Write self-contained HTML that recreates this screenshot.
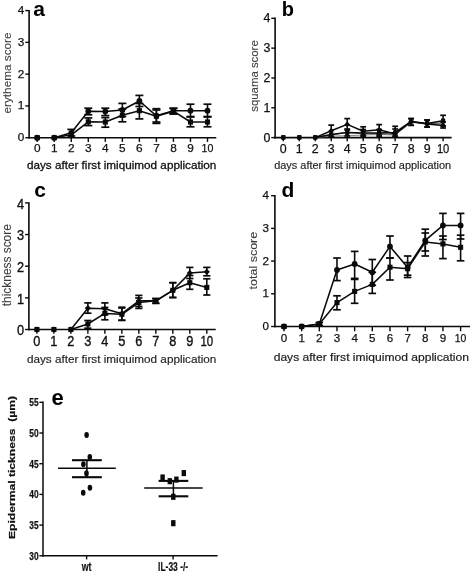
<!DOCTYPE html>
<html lang="en"><head><meta charset="utf-8"><title>Figure</title>
<style>html,body{margin:0;padding:0;background:#fff}body{width:472px;height:573px;overflow:hidden}svg{display:block}#fig{filter:blur(0.45px)}</style>
</head><body>
<svg width="472" height="573" viewBox="0 0 472 573" font-family='"Liberation Sans", Arial, sans-serif'>
<rect width="472" height="573" fill="#fff"/>
<g id="fig">
<line x1="29.1" y1="9.88" x2="29.1" y2="138.5" stroke="#0a0a0a" stroke-width="1.6"/>
<line x1="28.3" y1="137.7" x2="216.3" y2="137.7" stroke="#0a0a0a" stroke-width="1.6"/>
<line x1="25.3" y1="137.7" x2="29.1" y2="137.7" stroke="#0a0a0a" stroke-width="1.4"/>
<text x="24.4" y="141.15" font-size="11.8" text-anchor="end" fill="#111" stroke="#111" stroke-width="0.25">0</text>
<line x1="25.3" y1="105.92" x2="29.1" y2="105.92" stroke="#0a0a0a" stroke-width="1.4"/>
<text x="24.4" y="109.37" font-size="11.8" text-anchor="end" fill="#111" stroke="#111" stroke-width="0.25">1</text>
<line x1="25.3" y1="74.14" x2="29.1" y2="74.14" stroke="#0a0a0a" stroke-width="1.4"/>
<text x="24.4" y="77.59" font-size="11.8" text-anchor="end" fill="#111" stroke="#111" stroke-width="0.25">2</text>
<line x1="25.3" y1="42.36" x2="29.1" y2="42.36" stroke="#0a0a0a" stroke-width="1.4"/>
<text x="24.4" y="45.81" font-size="11.8" text-anchor="end" fill="#111" stroke="#111" stroke-width="0.25">3</text>
<line x1="25.3" y1="10.58" x2="29.1" y2="10.58" stroke="#0a0a0a" stroke-width="1.4"/>
<text x="24.4" y="14.03" font-size="11.8" text-anchor="end" fill="#111" stroke="#111" stroke-width="0.25">4</text>
<line x1="37.2" y1="137.7" x2="37.2" y2="141.9" stroke="#0a0a0a" stroke-width="1.4"/>
<text x="37.2" y="152.3" font-size="11.8" text-anchor="middle" fill="#111" stroke="#111" stroke-width="0.25">0</text>
<line x1="54.23" y1="137.7" x2="54.23" y2="141.9" stroke="#0a0a0a" stroke-width="1.4"/>
<text x="54.23" y="152.3" font-size="11.8" text-anchor="middle" fill="#111" stroke="#111" stroke-width="0.25">1</text>
<line x1="71.26" y1="137.7" x2="71.26" y2="141.9" stroke="#0a0a0a" stroke-width="1.4"/>
<text x="71.26" y="152.3" font-size="11.8" text-anchor="middle" fill="#111" stroke="#111" stroke-width="0.25">2</text>
<line x1="88.29" y1="137.7" x2="88.29" y2="141.9" stroke="#0a0a0a" stroke-width="1.4"/>
<text x="88.29" y="152.3" font-size="11.8" text-anchor="middle" fill="#111" stroke="#111" stroke-width="0.25">3</text>
<line x1="105.32" y1="137.7" x2="105.32" y2="141.9" stroke="#0a0a0a" stroke-width="1.4"/>
<text x="105.32" y="152.3" font-size="11.8" text-anchor="middle" fill="#111" stroke="#111" stroke-width="0.25">4</text>
<line x1="122.35" y1="137.7" x2="122.35" y2="141.9" stroke="#0a0a0a" stroke-width="1.4"/>
<text x="122.35" y="152.3" font-size="11.8" text-anchor="middle" fill="#111" stroke="#111" stroke-width="0.25">5</text>
<line x1="139.38" y1="137.7" x2="139.38" y2="141.9" stroke="#0a0a0a" stroke-width="1.4"/>
<text x="139.38" y="152.3" font-size="11.8" text-anchor="middle" fill="#111" stroke="#111" stroke-width="0.25">6</text>
<line x1="156.41" y1="137.7" x2="156.41" y2="141.9" stroke="#0a0a0a" stroke-width="1.4"/>
<text x="156.41" y="152.3" font-size="11.8" text-anchor="middle" fill="#111" stroke="#111" stroke-width="0.25">7</text>
<line x1="173.44" y1="137.7" x2="173.44" y2="141.9" stroke="#0a0a0a" stroke-width="1.4"/>
<text x="173.44" y="152.3" font-size="11.8" text-anchor="middle" fill="#111" stroke="#111" stroke-width="0.25">8</text>
<line x1="190.47" y1="137.7" x2="190.47" y2="141.9" stroke="#0a0a0a" stroke-width="1.4"/>
<text x="190.47" y="152.3" font-size="11.8" text-anchor="middle" fill="#111" stroke="#111" stroke-width="0.25">9</text>
<line x1="207.5" y1="137.7" x2="207.5" y2="141.9" stroke="#0a0a0a" stroke-width="1.4"/>
<text x="207.5" y="152.3" font-size="11.8" text-anchor="middle" fill="#111" textLength="11.8" lengthAdjust="spacingAndGlyphs" stroke="#111" stroke-width="0.25">10</text>
<text x="26.9" y="169" font-size="11.2" text-anchor="start" fill="#111" textLength="189.5" lengthAdjust="spacingAndGlyphs" stroke="#111" stroke-width="0.3">days after first imiquimod application</text>
<text x="10.9" y="73" font-size="11.2" text-anchor="middle" fill="#3c3c3c" textLength="81" lengthAdjust="spacingAndGlyphs" transform="rotate(-90 10.9 73)" stroke="#3c3c3c" stroke-width="0.1">erythema score</text>
<text x="33.2" y="16" font-size="21" text-anchor="start" fill="#000" font-weight="bold">a</text>
<polyline points="54.23,137.7 71.26,134.8 88.29,121.8 105.32,122 122.35,115.3 139.38,110.7 156.41,116.2 173.44,111.2 190.47,122 207.5,122" fill="none" stroke="#0a0a0a" stroke-width="1.55" stroke-linejoin="round"/>
<polyline points="54.23,137.7 71.26,132.8 88.29,111.2 105.32,111.5 122.35,110 139.38,101 156.41,115.8 173.44,110.7 190.47,110.7 207.5,110.7" fill="none" stroke="#0a0a0a" stroke-width="1.55" stroke-linejoin="round"/>
<line x1="88.29" y1="117.9" x2="88.29" y2="125.6" stroke="#0a0a0a" stroke-width="1.6"/>
<line x1="84.29" y1="117.9" x2="92.29" y2="117.9" stroke="#0a0a0a" stroke-width="1.7"/>
<line x1="84.29" y1="125.6" x2="92.29" y2="125.6" stroke="#0a0a0a" stroke-width="1.7"/>
<line x1="105.32" y1="117.6" x2="105.32" y2="127.2" stroke="#0a0a0a" stroke-width="1.6"/>
<line x1="101.32" y1="117.6" x2="109.32" y2="117.6" stroke="#0a0a0a" stroke-width="1.7"/>
<line x1="101.32" y1="127.2" x2="109.32" y2="127.2" stroke="#0a0a0a" stroke-width="1.7"/>
<line x1="122.35" y1="109" x2="122.35" y2="121.8" stroke="#0a0a0a" stroke-width="1.6"/>
<line x1="118.35" y1="109" x2="126.35" y2="109" stroke="#0a0a0a" stroke-width="1.7"/>
<line x1="118.35" y1="121.8" x2="126.35" y2="121.8" stroke="#0a0a0a" stroke-width="1.7"/>
<line x1="139.38" y1="103.5" x2="139.38" y2="118.9" stroke="#0a0a0a" stroke-width="1.6"/>
<line x1="135.38" y1="103.5" x2="143.38" y2="103.5" stroke="#0a0a0a" stroke-width="1.7"/>
<line x1="135.38" y1="118.9" x2="143.38" y2="118.9" stroke="#0a0a0a" stroke-width="1.7"/>
<line x1="156.41" y1="110" x2="156.41" y2="123.4" stroke="#0a0a0a" stroke-width="1.6"/>
<line x1="152.41" y1="110" x2="160.41" y2="110" stroke="#0a0a0a" stroke-width="1.7"/>
<line x1="152.41" y1="123.4" x2="160.41" y2="123.4" stroke="#0a0a0a" stroke-width="1.7"/>
<line x1="173.44" y1="108.5" x2="173.44" y2="114" stroke="#0a0a0a" stroke-width="1.6"/>
<line x1="169.44" y1="108.5" x2="177.44" y2="108.5" stroke="#0a0a0a" stroke-width="1.7"/>
<line x1="169.44" y1="114" x2="177.44" y2="114" stroke="#0a0a0a" stroke-width="1.7"/>
<line x1="190.47" y1="117" x2="190.47" y2="126.8" stroke="#0a0a0a" stroke-width="1.6"/>
<line x1="186.47" y1="117" x2="194.47" y2="117" stroke="#0a0a0a" stroke-width="1.7"/>
<line x1="186.47" y1="126.8" x2="194.47" y2="126.8" stroke="#0a0a0a" stroke-width="1.7"/>
<line x1="207.5" y1="117" x2="207.5" y2="126.8" stroke="#0a0a0a" stroke-width="1.6"/>
<line x1="203.5" y1="117" x2="211.5" y2="117" stroke="#0a0a0a" stroke-width="1.7"/>
<line x1="203.5" y1="126.8" x2="211.5" y2="126.8" stroke="#0a0a0a" stroke-width="1.7"/>
<line x1="71.26" y1="129.4" x2="71.26" y2="136" stroke="#0a0a0a" stroke-width="1.6"/>
<line x1="67.26" y1="129.4" x2="75.26" y2="129.4" stroke="#0a0a0a" stroke-width="1.7"/>
<line x1="67.26" y1="136" x2="75.26" y2="136" stroke="#0a0a0a" stroke-width="1.7"/>
<line x1="88.29" y1="108.2" x2="88.29" y2="114.8" stroke="#0a0a0a" stroke-width="1.6"/>
<line x1="84.29" y1="108.2" x2="92.29" y2="108.2" stroke="#0a0a0a" stroke-width="1.7"/>
<line x1="84.29" y1="114.8" x2="92.29" y2="114.8" stroke="#0a0a0a" stroke-width="1.7"/>
<line x1="105.32" y1="108.2" x2="105.32" y2="115.6" stroke="#0a0a0a" stroke-width="1.6"/>
<line x1="101.32" y1="108.2" x2="109.32" y2="108.2" stroke="#0a0a0a" stroke-width="1.7"/>
<line x1="101.32" y1="115.6" x2="109.32" y2="115.6" stroke="#0a0a0a" stroke-width="1.7"/>
<line x1="122.35" y1="103.4" x2="122.35" y2="116.5" stroke="#0a0a0a" stroke-width="1.6"/>
<line x1="118.35" y1="103.4" x2="126.35" y2="103.4" stroke="#0a0a0a" stroke-width="1.7"/>
<line x1="118.35" y1="116.5" x2="126.35" y2="116.5" stroke="#0a0a0a" stroke-width="1.7"/>
<line x1="139.38" y1="95.4" x2="139.38" y2="106.5" stroke="#0a0a0a" stroke-width="1.6"/>
<line x1="135.38" y1="95.4" x2="143.38" y2="95.4" stroke="#0a0a0a" stroke-width="1.7"/>
<line x1="135.38" y1="106.5" x2="143.38" y2="106.5" stroke="#0a0a0a" stroke-width="1.7"/>
<line x1="156.41" y1="108.7" x2="156.41" y2="122" stroke="#0a0a0a" stroke-width="1.6"/>
<line x1="152.41" y1="108.7" x2="160.41" y2="108.7" stroke="#0a0a0a" stroke-width="1.7"/>
<line x1="152.41" y1="122" x2="160.41" y2="122" stroke="#0a0a0a" stroke-width="1.7"/>
<line x1="173.44" y1="108.2" x2="173.44" y2="113.8" stroke="#0a0a0a" stroke-width="1.6"/>
<line x1="169.44" y1="108.2" x2="177.44" y2="108.2" stroke="#0a0a0a" stroke-width="1.7"/>
<line x1="169.44" y1="113.8" x2="177.44" y2="113.8" stroke="#0a0a0a" stroke-width="1.7"/>
<line x1="190.47" y1="104.2" x2="190.47" y2="116.5" stroke="#0a0a0a" stroke-width="1.6"/>
<line x1="186.47" y1="104.2" x2="194.47" y2="104.2" stroke="#0a0a0a" stroke-width="1.7"/>
<line x1="186.47" y1="116.5" x2="194.47" y2="116.5" stroke="#0a0a0a" stroke-width="1.7"/>
<line x1="207.5" y1="104.2" x2="207.5" y2="116.5" stroke="#0a0a0a" stroke-width="1.6"/>
<line x1="203.5" y1="104.2" x2="211.5" y2="104.2" stroke="#0a0a0a" stroke-width="1.7"/>
<line x1="203.5" y1="116.5" x2="211.5" y2="116.5" stroke="#0a0a0a" stroke-width="1.7"/>
<rect x="34.65" y="135.15" width="5.1" height="5.1" fill="#0a0a0a"/>
<rect x="51.68" y="135.15" width="5.1" height="5.1" fill="#0a0a0a"/>
<rect x="68.71" y="132.25" width="5.1" height="5.1" fill="#0a0a0a"/>
<rect x="85.74" y="119.25" width="5.1" height="5.1" fill="#0a0a0a"/>
<rect x="102.77" y="119.45" width="5.1" height="5.1" fill="#0a0a0a"/>
<rect x="119.8" y="112.75" width="5.1" height="5.1" fill="#0a0a0a"/>
<rect x="136.83" y="108.15" width="5.1" height="5.1" fill="#0a0a0a"/>
<rect x="153.86" y="113.65" width="5.1" height="5.1" fill="#0a0a0a"/>
<rect x="170.89" y="108.65" width="5.1" height="5.1" fill="#0a0a0a"/>
<rect x="187.92" y="119.45" width="5.1" height="5.1" fill="#0a0a0a"/>
<rect x="204.95" y="119.45" width="5.1" height="5.1" fill="#0a0a0a"/>
<circle cx="37.2" cy="137.7" r="2.9" fill="#0a0a0a"/>
<circle cx="54.23" cy="137.7" r="2.9" fill="#0a0a0a"/>
<circle cx="71.26" cy="132.8" r="2.9" fill="#0a0a0a"/>
<circle cx="88.29" cy="111.2" r="2.9" fill="#0a0a0a"/>
<circle cx="105.32" cy="111.5" r="2.9" fill="#0a0a0a"/>
<circle cx="122.35" cy="110" r="2.9" fill="#0a0a0a"/>
<circle cx="139.38" cy="101" r="2.9" fill="#0a0a0a"/>
<circle cx="156.41" cy="115.8" r="2.9" fill="#0a0a0a"/>
<circle cx="173.44" cy="110.7" r="2.9" fill="#0a0a0a"/>
<circle cx="190.47" cy="110.7" r="2.9" fill="#0a0a0a"/>
<circle cx="207.5" cy="110.7" r="2.9" fill="#0a0a0a"/>
<line x1="275.1" y1="17.62" x2="275.1" y2="138.4" stroke="#0a0a0a" stroke-width="1.6"/>
<line x1="274.3" y1="137.6" x2="451.6" y2="137.6" stroke="#0a0a0a" stroke-width="1.6"/>
<line x1="271.3" y1="137.6" x2="275.1" y2="137.6" stroke="#0a0a0a" stroke-width="1.4"/>
<text x="270.4" y="141.56" font-size="12.4" text-anchor="end" fill="#111" stroke="#111" stroke-width="0.25">0</text>
<line x1="271.3" y1="107.78" x2="275.1" y2="107.78" stroke="#0a0a0a" stroke-width="1.4"/>
<text x="270.4" y="111.74" font-size="12.4" text-anchor="end" fill="#111" stroke="#111" stroke-width="0.25">1</text>
<line x1="271.3" y1="77.96" x2="275.1" y2="77.96" stroke="#0a0a0a" stroke-width="1.4"/>
<text x="270.4" y="81.92" font-size="12.4" text-anchor="end" fill="#111" stroke="#111" stroke-width="0.25">2</text>
<line x1="271.3" y1="48.14" x2="275.1" y2="48.14" stroke="#0a0a0a" stroke-width="1.4"/>
<text x="270.4" y="52.1" font-size="12.4" text-anchor="end" fill="#111" stroke="#111" stroke-width="0.25">3</text>
<line x1="271.3" y1="18.32" x2="275.1" y2="18.32" stroke="#0a0a0a" stroke-width="1.4"/>
<text x="270.4" y="22.28" font-size="12.4" text-anchor="end" fill="#111" stroke="#111" stroke-width="0.25">4</text>
<line x1="283.3" y1="137.6" x2="283.3" y2="141.2" stroke="#0a0a0a" stroke-width="1.4"/>
<text x="283.3" y="153" font-size="12.4" text-anchor="middle" fill="#111" stroke="#111" stroke-width="0.25">0</text>
<line x1="299.28" y1="137.6" x2="299.28" y2="141.2" stroke="#0a0a0a" stroke-width="1.4"/>
<text x="299.28" y="153" font-size="12.4" text-anchor="middle" fill="#111" stroke="#111" stroke-width="0.25">1</text>
<line x1="315.26" y1="137.6" x2="315.26" y2="141.2" stroke="#0a0a0a" stroke-width="1.4"/>
<text x="315.26" y="153" font-size="12.4" text-anchor="middle" fill="#111" stroke="#111" stroke-width="0.25">2</text>
<line x1="331.24" y1="137.6" x2="331.24" y2="141.2" stroke="#0a0a0a" stroke-width="1.4"/>
<text x="331.24" y="153" font-size="12.4" text-anchor="middle" fill="#111" stroke="#111" stroke-width="0.25">3</text>
<line x1="347.22" y1="137.6" x2="347.22" y2="141.2" stroke="#0a0a0a" stroke-width="1.4"/>
<text x="347.22" y="153" font-size="12.4" text-anchor="middle" fill="#111" stroke="#111" stroke-width="0.25">4</text>
<line x1="363.2" y1="137.6" x2="363.2" y2="141.2" stroke="#0a0a0a" stroke-width="1.4"/>
<text x="363.2" y="153" font-size="12.4" text-anchor="middle" fill="#111" stroke="#111" stroke-width="0.25">5</text>
<line x1="379.18" y1="137.6" x2="379.18" y2="141.2" stroke="#0a0a0a" stroke-width="1.4"/>
<text x="379.18" y="153" font-size="12.4" text-anchor="middle" fill="#111" stroke="#111" stroke-width="0.25">6</text>
<line x1="395.16" y1="137.6" x2="395.16" y2="141.2" stroke="#0a0a0a" stroke-width="1.4"/>
<text x="395.16" y="153" font-size="12.4" text-anchor="middle" fill="#111" stroke="#111" stroke-width="0.25">7</text>
<line x1="411.14" y1="137.6" x2="411.14" y2="141.2" stroke="#0a0a0a" stroke-width="1.4"/>
<text x="411.14" y="153" font-size="12.4" text-anchor="middle" fill="#111" stroke="#111" stroke-width="0.25">8</text>
<line x1="427.12" y1="137.6" x2="427.12" y2="141.2" stroke="#0a0a0a" stroke-width="1.4"/>
<text x="427.12" y="153" font-size="12.4" text-anchor="middle" fill="#111" stroke="#111" stroke-width="0.25">9</text>
<line x1="443.1" y1="137.6" x2="443.1" y2="141.2" stroke="#0a0a0a" stroke-width="1.4"/>
<text x="443.1" y="153" font-size="12.4" text-anchor="middle" fill="#111" textLength="12.4" lengthAdjust="spacingAndGlyphs" stroke="#111" stroke-width="0.25">10</text>
<text x="274.2" y="169" font-size="10.6" text-anchor="start" fill="#222" textLength="177" lengthAdjust="spacingAndGlyphs" stroke="#222" stroke-width="0.15">days after first imiquimod application</text>
<text x="257.9" y="76" font-size="10.8" text-anchor="middle" fill="#3c3c3c" textLength="71.5" lengthAdjust="spacingAndGlyphs" transform="rotate(-90 257.9 76)" stroke="#3c3c3c" stroke-width="0.1">squama score</text>
<text x="281.8" y="15.6" font-size="20" text-anchor="start" fill="#000" font-weight="bold">b</text>
<polyline points="315.26,137.6 331.24,136 347.22,135.8 363.2,135 379.18,134.5 395.16,135 411.14,122.5 427.12,123.5 443.1,124" fill="none" stroke="#777" stroke-width="0.9" stroke-linejoin="round"/>
<polyline points="315.26,137.6 331.24,135 347.22,132.2 363.2,134 379.18,133.5 395.16,134.5 411.14,122 427.12,123.7 443.1,123" fill="none" stroke="#555" stroke-width="0.9" stroke-linejoin="round"/>
<polyline points="315.26,137.6 331.24,134.5 347.22,132.5 363.2,133 379.18,133 395.16,132.5 411.14,121.5 427.12,123.6 443.1,120.7" fill="none" stroke="#0a0a0a" stroke-width="1.55" stroke-linejoin="round"/>
<polyline points="315.26,137.6 331.24,130.8 347.22,124.4 363.2,131.2 379.18,129.8 395.16,134 411.14,121.5 427.12,123.9 443.1,125.4" fill="none" stroke="#0a0a0a" stroke-width="1.55" stroke-linejoin="round"/>
<line x1="347.22" y1="129" x2="347.22" y2="136" stroke="#0a0a0a" stroke-width="1.6"/>
<line x1="344.32" y1="129" x2="350.12" y2="129" stroke="#0a0a0a" stroke-width="1.7"/>
<line x1="344.32" y1="136" x2="350.12" y2="136" stroke="#0a0a0a" stroke-width="1.7"/>
<line x1="363.2" y1="129.5" x2="363.2" y2="136.5" stroke="#0a0a0a" stroke-width="1.6"/>
<line x1="360.3" y1="129.5" x2="366.1" y2="129.5" stroke="#0a0a0a" stroke-width="1.7"/>
<line x1="360.3" y1="136.5" x2="366.1" y2="136.5" stroke="#0a0a0a" stroke-width="1.7"/>
<line x1="379.18" y1="129.5" x2="379.18" y2="136.5" stroke="#0a0a0a" stroke-width="1.6"/>
<line x1="376.28" y1="129.5" x2="382.08" y2="129.5" stroke="#0a0a0a" stroke-width="1.7"/>
<line x1="376.28" y1="136.5" x2="382.08" y2="136.5" stroke="#0a0a0a" stroke-width="1.7"/>
<line x1="395.16" y1="129" x2="395.16" y2="136" stroke="#0a0a0a" stroke-width="1.6"/>
<line x1="392.26" y1="129" x2="398.06" y2="129" stroke="#0a0a0a" stroke-width="1.7"/>
<line x1="392.26" y1="136" x2="398.06" y2="136" stroke="#0a0a0a" stroke-width="1.7"/>
<line x1="411.14" y1="118.6" x2="411.14" y2="125.2" stroke="#0a0a0a" stroke-width="1.6"/>
<line x1="408.24" y1="118.6" x2="414.04" y2="118.6" stroke="#0a0a0a" stroke-width="1.7"/>
<line x1="408.24" y1="125.2" x2="414.04" y2="125.2" stroke="#0a0a0a" stroke-width="1.7"/>
<line x1="427.12" y1="120" x2="427.12" y2="127" stroke="#0a0a0a" stroke-width="1.6"/>
<line x1="424.22" y1="120" x2="430.02" y2="120" stroke="#0a0a0a" stroke-width="1.7"/>
<line x1="424.22" y1="127" x2="430.02" y2="127" stroke="#0a0a0a" stroke-width="1.7"/>
<line x1="443.1" y1="115.3" x2="443.1" y2="126" stroke="#0a0a0a" stroke-width="1.6"/>
<line x1="440.2" y1="115.3" x2="446" y2="115.3" stroke="#0a0a0a" stroke-width="1.7"/>
<line x1="440.2" y1="126" x2="446" y2="126" stroke="#0a0a0a" stroke-width="1.7"/>
<line x1="331.24" y1="125.1" x2="331.24" y2="136.5" stroke="#0a0a0a" stroke-width="1.6"/>
<line x1="328.34" y1="125.1" x2="334.14" y2="125.1" stroke="#0a0a0a" stroke-width="1.7"/>
<line x1="328.34" y1="136.5" x2="334.14" y2="136.5" stroke="#0a0a0a" stroke-width="1.7"/>
<line x1="347.22" y1="118.6" x2="347.22" y2="130" stroke="#0a0a0a" stroke-width="1.6"/>
<line x1="344.32" y1="118.6" x2="350.12" y2="118.6" stroke="#0a0a0a" stroke-width="1.7"/>
<line x1="344.32" y1="130" x2="350.12" y2="130" stroke="#0a0a0a" stroke-width="1.7"/>
<line x1="363.2" y1="126.8" x2="363.2" y2="135.3" stroke="#0a0a0a" stroke-width="1.6"/>
<line x1="360.3" y1="126.8" x2="366.1" y2="126.8" stroke="#0a0a0a" stroke-width="1.7"/>
<line x1="360.3" y1="135.3" x2="366.1" y2="135.3" stroke="#0a0a0a" stroke-width="1.7"/>
<line x1="379.18" y1="124.6" x2="379.18" y2="135" stroke="#0a0a0a" stroke-width="1.6"/>
<line x1="376.28" y1="124.6" x2="382.08" y2="124.6" stroke="#0a0a0a" stroke-width="1.7"/>
<line x1="376.28" y1="135" x2="382.08" y2="135" stroke="#0a0a0a" stroke-width="1.7"/>
<line x1="395.16" y1="126.3" x2="395.16" y2="137" stroke="#0a0a0a" stroke-width="1.6"/>
<line x1="392.26" y1="126.3" x2="398.06" y2="126.3" stroke="#0a0a0a" stroke-width="1.7"/>
<line x1="392.26" y1="137" x2="398.06" y2="137" stroke="#0a0a0a" stroke-width="1.7"/>
<line x1="411.14" y1="118.6" x2="411.14" y2="125.4" stroke="#0a0a0a" stroke-width="1.6"/>
<line x1="408.24" y1="118.6" x2="414.04" y2="118.6" stroke="#0a0a0a" stroke-width="1.7"/>
<line x1="408.24" y1="125.4" x2="414.04" y2="125.4" stroke="#0a0a0a" stroke-width="1.7"/>
<line x1="427.12" y1="120" x2="427.12" y2="127.1" stroke="#0a0a0a" stroke-width="1.6"/>
<line x1="424.22" y1="120" x2="430.02" y2="120" stroke="#0a0a0a" stroke-width="1.7"/>
<line x1="424.22" y1="127.1" x2="430.02" y2="127.1" stroke="#0a0a0a" stroke-width="1.7"/>
<line x1="443.1" y1="122" x2="443.1" y2="128" stroke="#0a0a0a" stroke-width="1.6"/>
<line x1="440.2" y1="122" x2="446" y2="122" stroke="#0a0a0a" stroke-width="1.7"/>
<line x1="440.2" y1="128" x2="446" y2="128" stroke="#0a0a0a" stroke-width="1.7"/>
<polygon points="281.1,135.4 285.5,135.4 283.3,139.8" fill="#0a0a0a"/>
<polygon points="297.08,135.4 301.48,135.4 299.28,139.8" fill="#0a0a0a"/>
<polygon points="313.06,135.4 317.46,135.4 315.26,139.8" fill="#0a0a0a"/>
<polygon points="329.04,133.8 333.44,133.8 331.24,138.2" fill="#0a0a0a"/>
<polygon points="345.02,133.6 349.42,133.6 347.22,138" fill="#0a0a0a"/>
<polygon points="361,132.8 365.4,132.8 363.2,137.2" fill="#0a0a0a"/>
<polygon points="376.98,132.3 381.38,132.3 379.18,136.7" fill="#0a0a0a"/>
<polygon points="392.96,132.8 397.36,132.8 395.16,137.2" fill="#0a0a0a"/>
<polygon points="408.94,120.3 413.34,120.3 411.14,124.7" fill="#0a0a0a"/>
<polygon points="424.92,121.3 429.32,121.3 427.12,125.7" fill="#0a0a0a"/>
<polygon points="440.9,121.8 445.3,121.8 443.1,126.2" fill="#0a0a0a"/>
<polygon points="281.1,135.4 285.5,135.4 283.3,139.8" fill="#0a0a0a"/>
<polygon points="297.08,135.4 301.48,135.4 299.28,139.8" fill="#0a0a0a"/>
<polygon points="313.06,135.4 317.46,135.4 315.26,139.8" fill="#0a0a0a"/>
<polygon points="329.04,132.8 333.44,132.8 331.24,137.2" fill="#0a0a0a"/>
<polygon points="345.02,130 349.42,130 347.22,134.4" fill="#0a0a0a"/>
<polygon points="361,131.8 365.4,131.8 363.2,136.2" fill="#0a0a0a"/>
<polygon points="376.98,131.3 381.38,131.3 379.18,135.7" fill="#0a0a0a"/>
<polygon points="392.96,132.3 397.36,132.3 395.16,136.7" fill="#0a0a0a"/>
<polygon points="408.94,119.8 413.34,119.8 411.14,124.2" fill="#0a0a0a"/>
<polygon points="424.92,121.5 429.32,121.5 427.12,125.9" fill="#0a0a0a"/>
<polygon points="440.9,120.8 445.3,120.8 443.1,125.2" fill="#0a0a0a"/>
<rect x="281.2" y="135.5" width="4.2" height="4.2" fill="#0a0a0a"/>
<rect x="297.18" y="135.5" width="4.2" height="4.2" fill="#0a0a0a"/>
<rect x="313.16" y="135.5" width="4.2" height="4.2" fill="#0a0a0a"/>
<rect x="329.14" y="132.4" width="4.2" height="4.2" fill="#0a0a0a"/>
<rect x="345.12" y="130.4" width="4.2" height="4.2" fill="#0a0a0a"/>
<rect x="361.1" y="130.9" width="4.2" height="4.2" fill="#0a0a0a"/>
<rect x="377.08" y="130.9" width="4.2" height="4.2" fill="#0a0a0a"/>
<rect x="393.06" y="130.4" width="4.2" height="4.2" fill="#0a0a0a"/>
<rect x="409.04" y="119.4" width="4.2" height="4.2" fill="#0a0a0a"/>
<rect x="425.02" y="121.5" width="4.2" height="4.2" fill="#0a0a0a"/>
<rect x="441" y="118.6" width="4.2" height="4.2" fill="#0a0a0a"/>
<polygon points="280.4,137.6 283.3,134.7 286.2,137.6 283.3,140.5" fill="#0a0a0a"/>
<polygon points="296.38,137.6 299.28,134.7 302.18,137.6 299.28,140.5" fill="#0a0a0a"/>
<polygon points="312.36,137.6 315.26,134.7 318.16,137.6 315.26,140.5" fill="#0a0a0a"/>
<polygon points="328.34,130.8 331.24,127.9 334.14,130.8 331.24,133.7" fill="#0a0a0a"/>
<polygon points="344.32,124.4 347.22,121.5 350.12,124.4 347.22,127.3" fill="#0a0a0a"/>
<polygon points="360.3,131.2 363.2,128.3 366.1,131.2 363.2,134.1" fill="#0a0a0a"/>
<polygon points="376.28,129.8 379.18,126.9 382.08,129.8 379.18,132.7" fill="#0a0a0a"/>
<polygon points="392.26,134 395.16,131.1 398.06,134 395.16,136.9" fill="#0a0a0a"/>
<polygon points="408.24,121.5 411.14,118.6 414.04,121.5 411.14,124.4" fill="#0a0a0a"/>
<polygon points="424.22,123.9 427.12,121 430.02,123.9 427.12,126.8" fill="#0a0a0a"/>
<polygon points="440.2,125.4 443.1,122.5 446,125.4 443.1,128.3" fill="#0a0a0a"/>
<line x1="28.9" y1="202.2" x2="28.9" y2="330.3" stroke="#0a0a0a" stroke-width="1.6"/>
<line x1="28.1" y1="329.5" x2="215.7" y2="329.5" stroke="#0a0a0a" stroke-width="1.6"/>
<line x1="25.1" y1="329.5" x2="28.9" y2="329.5" stroke="#0a0a0a" stroke-width="1.4"/>
<text x="24.2" y="335.37" font-size="15.2" text-anchor="end" fill="#111" textLength="7.1" lengthAdjust="spacingAndGlyphs" stroke="#111" stroke-width="0.38">0</text>
<line x1="25.1" y1="297.85" x2="28.9" y2="297.85" stroke="#0a0a0a" stroke-width="1.4"/>
<text x="24.2" y="303.72" font-size="15.2" text-anchor="end" fill="#111" textLength="7.1" lengthAdjust="spacingAndGlyphs" stroke="#111" stroke-width="0.38">1</text>
<line x1="25.1" y1="266.2" x2="28.9" y2="266.2" stroke="#0a0a0a" stroke-width="1.4"/>
<text x="24.2" y="272.07" font-size="15.2" text-anchor="end" fill="#111" textLength="7.1" lengthAdjust="spacingAndGlyphs" stroke="#111" stroke-width="0.38">2</text>
<line x1="25.1" y1="234.55" x2="28.9" y2="234.55" stroke="#0a0a0a" stroke-width="1.4"/>
<text x="24.2" y="240.42" font-size="15.2" text-anchor="end" fill="#111" textLength="7.1" lengthAdjust="spacingAndGlyphs" stroke="#111" stroke-width="0.38">3</text>
<line x1="25.1" y1="202.9" x2="28.9" y2="202.9" stroke="#0a0a0a" stroke-width="1.4"/>
<text x="24.2" y="208.77" font-size="15.2" text-anchor="end" fill="#111" textLength="7.1" lengthAdjust="spacingAndGlyphs" stroke="#111" stroke-width="0.38">4</text>
<line x1="36.9" y1="329.5" x2="36.9" y2="333.7" stroke="#0a0a0a" stroke-width="1.4"/>
<text x="36.9" y="346" font-size="15.2" text-anchor="middle" fill="#111" textLength="7.1" lengthAdjust="spacingAndGlyphs" stroke="#111" stroke-width="0.38">0</text>
<line x1="53.89" y1="329.5" x2="53.89" y2="333.7" stroke="#0a0a0a" stroke-width="1.4"/>
<text x="53.89" y="346" font-size="15.2" text-anchor="middle" fill="#111" textLength="7.1" lengthAdjust="spacingAndGlyphs" stroke="#111" stroke-width="0.38">1</text>
<line x1="70.88" y1="329.5" x2="70.88" y2="333.7" stroke="#0a0a0a" stroke-width="1.4"/>
<text x="70.88" y="346" font-size="15.2" text-anchor="middle" fill="#111" textLength="7.1" lengthAdjust="spacingAndGlyphs" stroke="#111" stroke-width="0.38">2</text>
<line x1="87.87" y1="329.5" x2="87.87" y2="333.7" stroke="#0a0a0a" stroke-width="1.4"/>
<text x="87.87" y="346" font-size="15.2" text-anchor="middle" fill="#111" textLength="7.1" lengthAdjust="spacingAndGlyphs" stroke="#111" stroke-width="0.38">3</text>
<line x1="104.86" y1="329.5" x2="104.86" y2="333.7" stroke="#0a0a0a" stroke-width="1.4"/>
<text x="104.86" y="346" font-size="15.2" text-anchor="middle" fill="#111" textLength="7.1" lengthAdjust="spacingAndGlyphs" stroke="#111" stroke-width="0.38">4</text>
<line x1="121.85" y1="329.5" x2="121.85" y2="333.7" stroke="#0a0a0a" stroke-width="1.4"/>
<text x="121.85" y="346" font-size="15.2" text-anchor="middle" fill="#111" textLength="7.1" lengthAdjust="spacingAndGlyphs" stroke="#111" stroke-width="0.38">5</text>
<line x1="138.84" y1="329.5" x2="138.84" y2="333.7" stroke="#0a0a0a" stroke-width="1.4"/>
<text x="138.84" y="346" font-size="15.2" text-anchor="middle" fill="#111" textLength="7.1" lengthAdjust="spacingAndGlyphs" stroke="#111" stroke-width="0.38">6</text>
<line x1="155.83" y1="329.5" x2="155.83" y2="333.7" stroke="#0a0a0a" stroke-width="1.4"/>
<text x="155.83" y="346" font-size="15.2" text-anchor="middle" fill="#111" textLength="7.1" lengthAdjust="spacingAndGlyphs" stroke="#111" stroke-width="0.38">7</text>
<line x1="172.82" y1="329.5" x2="172.82" y2="333.7" stroke="#0a0a0a" stroke-width="1.4"/>
<text x="172.82" y="346" font-size="15.2" text-anchor="middle" fill="#111" textLength="7.1" lengthAdjust="spacingAndGlyphs" stroke="#111" stroke-width="0.38">8</text>
<line x1="189.81" y1="329.5" x2="189.81" y2="333.7" stroke="#0a0a0a" stroke-width="1.4"/>
<text x="189.81" y="346" font-size="15.2" text-anchor="middle" fill="#111" textLength="7.1" lengthAdjust="spacingAndGlyphs" stroke="#111" stroke-width="0.38">9</text>
<line x1="206.8" y1="329.5" x2="206.8" y2="333.7" stroke="#0a0a0a" stroke-width="1.4"/>
<text x="206.8" y="346" font-size="15.2" text-anchor="middle" fill="#111" textLength="12.77" lengthAdjust="spacingAndGlyphs" stroke="#111" stroke-width="0.38">10</text>
<text x="26.9" y="363.2" font-size="10.6" text-anchor="start" fill="#222" textLength="189.5" lengthAdjust="spacingAndGlyphs" stroke="#222" stroke-width="0.15">days after first imiquimod application</text>
<text x="10.6" y="265.2" font-size="12.6" text-anchor="middle" fill="#3c3c3c" textLength="82" lengthAdjust="spacingAndGlyphs" transform="rotate(-90 10.6 265.2)" stroke="#3c3c3c" stroke-width="0.1">thickness score</text>
<text x="34.2" y="196.9" font-size="21" text-anchor="start" fill="#000" font-weight="bold">c</text>
<polyline points="70.88,329.5 87.87,324 104.86,313.4 121.85,314.3 138.84,302.6 155.83,300.8 172.82,290.3 189.81,282.7 206.8,287.4" fill="none" stroke="#0a0a0a" stroke-width="1.55" stroke-linejoin="round"/>
<polyline points="70.88,329.5 87.87,308.2 104.86,308.8 121.85,313.7 138.84,300.8 155.83,300.8 172.82,290.3 189.81,273.1 206.8,271.8" fill="none" stroke="#0a0a0a" stroke-width="1.55" stroke-linejoin="round"/>
<line x1="87.87" y1="320.5" x2="87.87" y2="328.2" stroke="#0a0a0a" stroke-width="1.6"/>
<line x1="84.27" y1="320.5" x2="91.47" y2="320.5" stroke="#0a0a0a" stroke-width="1.7"/>
<line x1="84.27" y1="328.2" x2="91.47" y2="328.2" stroke="#0a0a0a" stroke-width="1.7"/>
<line x1="104.86" y1="307.5" x2="104.86" y2="319.8" stroke="#0a0a0a" stroke-width="1.6"/>
<line x1="101.26" y1="307.5" x2="108.46" y2="307.5" stroke="#0a0a0a" stroke-width="1.7"/>
<line x1="101.26" y1="319.8" x2="108.46" y2="319.8" stroke="#0a0a0a" stroke-width="1.7"/>
<line x1="121.85" y1="308" x2="121.85" y2="320.3" stroke="#0a0a0a" stroke-width="1.6"/>
<line x1="118.25" y1="308" x2="125.45" y2="308" stroke="#0a0a0a" stroke-width="1.7"/>
<line x1="118.25" y1="320.3" x2="125.45" y2="320.3" stroke="#0a0a0a" stroke-width="1.7"/>
<line x1="138.84" y1="298" x2="138.84" y2="308.4" stroke="#0a0a0a" stroke-width="1.6"/>
<line x1="135.24" y1="298" x2="142.44" y2="298" stroke="#0a0a0a" stroke-width="1.7"/>
<line x1="135.24" y1="308.4" x2="142.44" y2="308.4" stroke="#0a0a0a" stroke-width="1.7"/>
<line x1="155.83" y1="298.6" x2="155.83" y2="303.3" stroke="#0a0a0a" stroke-width="1.6"/>
<line x1="152.23" y1="298.6" x2="159.43" y2="298.6" stroke="#0a0a0a" stroke-width="1.7"/>
<line x1="152.23" y1="303.3" x2="159.43" y2="303.3" stroke="#0a0a0a" stroke-width="1.7"/>
<line x1="172.82" y1="282.7" x2="172.82" y2="297.5" stroke="#0a0a0a" stroke-width="1.6"/>
<line x1="169.22" y1="282.7" x2="176.42" y2="282.7" stroke="#0a0a0a" stroke-width="1.7"/>
<line x1="169.22" y1="297.5" x2="176.42" y2="297.5" stroke="#0a0a0a" stroke-width="1.7"/>
<line x1="189.81" y1="275.5" x2="189.81" y2="289.3" stroke="#0a0a0a" stroke-width="1.6"/>
<line x1="186.21" y1="275.5" x2="193.41" y2="275.5" stroke="#0a0a0a" stroke-width="1.7"/>
<line x1="186.21" y1="289.3" x2="193.41" y2="289.3" stroke="#0a0a0a" stroke-width="1.7"/>
<line x1="206.8" y1="278.8" x2="206.8" y2="295" stroke="#0a0a0a" stroke-width="1.6"/>
<line x1="203.2" y1="278.8" x2="210.4" y2="278.8" stroke="#0a0a0a" stroke-width="1.7"/>
<line x1="203.2" y1="295" x2="210.4" y2="295" stroke="#0a0a0a" stroke-width="1.7"/>
<line x1="87.87" y1="302.9" x2="87.87" y2="313.2" stroke="#0a0a0a" stroke-width="1.6"/>
<line x1="84.27" y1="302.9" x2="91.47" y2="302.9" stroke="#0a0a0a" stroke-width="1.7"/>
<line x1="84.27" y1="313.2" x2="91.47" y2="313.2" stroke="#0a0a0a" stroke-width="1.7"/>
<line x1="104.86" y1="302.9" x2="104.86" y2="314.6" stroke="#0a0a0a" stroke-width="1.6"/>
<line x1="101.26" y1="302.9" x2="108.46" y2="302.9" stroke="#0a0a0a" stroke-width="1.7"/>
<line x1="101.26" y1="314.6" x2="108.46" y2="314.6" stroke="#0a0a0a" stroke-width="1.7"/>
<line x1="121.85" y1="307.2" x2="121.85" y2="320.3" stroke="#0a0a0a" stroke-width="1.6"/>
<line x1="118.25" y1="307.2" x2="125.45" y2="307.2" stroke="#0a0a0a" stroke-width="1.7"/>
<line x1="118.25" y1="320.3" x2="125.45" y2="320.3" stroke="#0a0a0a" stroke-width="1.7"/>
<line x1="138.84" y1="295.4" x2="138.84" y2="306.5" stroke="#0a0a0a" stroke-width="1.6"/>
<line x1="135.24" y1="295.4" x2="142.44" y2="295.4" stroke="#0a0a0a" stroke-width="1.7"/>
<line x1="135.24" y1="306.5" x2="142.44" y2="306.5" stroke="#0a0a0a" stroke-width="1.7"/>
<line x1="155.83" y1="298.6" x2="155.83" y2="303.3" stroke="#0a0a0a" stroke-width="1.6"/>
<line x1="152.23" y1="298.6" x2="159.43" y2="298.6" stroke="#0a0a0a" stroke-width="1.7"/>
<line x1="152.23" y1="303.3" x2="159.43" y2="303.3" stroke="#0a0a0a" stroke-width="1.7"/>
<line x1="172.82" y1="282.7" x2="172.82" y2="297.5" stroke="#0a0a0a" stroke-width="1.6"/>
<line x1="169.22" y1="282.7" x2="176.42" y2="282.7" stroke="#0a0a0a" stroke-width="1.7"/>
<line x1="169.22" y1="297.5" x2="176.42" y2="297.5" stroke="#0a0a0a" stroke-width="1.7"/>
<line x1="189.81" y1="267.4" x2="189.81" y2="278.5" stroke="#0a0a0a" stroke-width="1.6"/>
<line x1="186.21" y1="267.4" x2="193.41" y2="267.4" stroke="#0a0a0a" stroke-width="1.7"/>
<line x1="186.21" y1="278.5" x2="193.41" y2="278.5" stroke="#0a0a0a" stroke-width="1.7"/>
<line x1="206.8" y1="267.4" x2="206.8" y2="275.8" stroke="#0a0a0a" stroke-width="1.6"/>
<line x1="203.2" y1="267.4" x2="210.4" y2="267.4" stroke="#0a0a0a" stroke-width="1.7"/>
<line x1="203.2" y1="275.8" x2="210.4" y2="275.8" stroke="#0a0a0a" stroke-width="1.7"/>
<rect x="34.35" y="326.95" width="5.1" height="5.1" fill="#0a0a0a"/>
<rect x="51.34" y="326.95" width="5.1" height="5.1" fill="#0a0a0a"/>
<rect x="68.33" y="326.95" width="5.1" height="5.1" fill="#0a0a0a"/>
<rect x="85.32" y="321.45" width="5.1" height="5.1" fill="#0a0a0a"/>
<rect x="102.31" y="310.85" width="5.1" height="5.1" fill="#0a0a0a"/>
<rect x="119.3" y="311.75" width="5.1" height="5.1" fill="#0a0a0a"/>
<rect x="136.29" y="300.05" width="5.1" height="5.1" fill="#0a0a0a"/>
<rect x="153.28" y="298.25" width="5.1" height="5.1" fill="#0a0a0a"/>
<rect x="170.27" y="287.75" width="5.1" height="5.1" fill="#0a0a0a"/>
<rect x="187.26" y="280.15" width="5.1" height="5.1" fill="#0a0a0a"/>
<rect x="204.25" y="284.85" width="5.1" height="5.1" fill="#0a0a0a"/>
<polygon points="33.8,329.5 36.9,326.4 40,329.5 36.9,332.6" fill="#0a0a0a"/>
<polygon points="50.79,329.5 53.89,326.4 56.99,329.5 53.89,332.6" fill="#0a0a0a"/>
<polygon points="67.78,329.5 70.88,326.4 73.98,329.5 70.88,332.6" fill="#0a0a0a"/>
<polygon points="84.77,308.2 87.87,305.1 90.97,308.2 87.87,311.3" fill="#0a0a0a"/>
<polygon points="101.76,308.8 104.86,305.7 107.96,308.8 104.86,311.9" fill="#0a0a0a"/>
<polygon points="118.75,313.7 121.85,310.6 124.95,313.7 121.85,316.8" fill="#0a0a0a"/>
<polygon points="135.74,300.8 138.84,297.7 141.94,300.8 138.84,303.9" fill="#0a0a0a"/>
<polygon points="152.73,300.8 155.83,297.7 158.93,300.8 155.83,303.9" fill="#0a0a0a"/>
<polygon points="169.72,290.3 172.82,287.2 175.92,290.3 172.82,293.4" fill="#0a0a0a"/>
<polygon points="186.71,273.1 189.81,270 192.91,273.1 189.81,276.2" fill="#0a0a0a"/>
<polygon points="203.7,271.8 206.8,268.7 209.9,271.8 206.8,274.9" fill="#0a0a0a"/>
<line x1="274.9" y1="195" x2="274.9" y2="327.3" stroke="#0a0a0a" stroke-width="1.6"/>
<line x1="274.1" y1="326.5" x2="470" y2="326.5" stroke="#0a0a0a" stroke-width="1.6"/>
<line x1="271.1" y1="326.5" x2="274.9" y2="326.5" stroke="#0a0a0a" stroke-width="1.4"/>
<text x="269" y="329.98" font-size="11.6" text-anchor="end" fill="#111" stroke="#111" stroke-width="0.25">0</text>
<line x1="271.1" y1="293.8" x2="274.9" y2="293.8" stroke="#0a0a0a" stroke-width="1.4"/>
<text x="269" y="297.28" font-size="11.6" text-anchor="end" fill="#111" stroke="#111" stroke-width="0.25">1</text>
<line x1="271.1" y1="261.1" x2="274.9" y2="261.1" stroke="#0a0a0a" stroke-width="1.4"/>
<text x="269" y="264.58" font-size="11.6" text-anchor="end" fill="#111" stroke="#111" stroke-width="0.25">2</text>
<line x1="271.1" y1="228.4" x2="274.9" y2="228.4" stroke="#0a0a0a" stroke-width="1.4"/>
<text x="269" y="231.88" font-size="11.6" text-anchor="end" fill="#111" stroke="#111" stroke-width="0.25">3</text>
<line x1="271.1" y1="195.7" x2="274.9" y2="195.7" stroke="#0a0a0a" stroke-width="1.4"/>
<text x="269" y="199.18" font-size="11.6" text-anchor="end" fill="#111" stroke="#111" stroke-width="0.25">4</text>
<line x1="284" y1="326.5" x2="284" y2="331.3" stroke="#0a0a0a" stroke-width="1.4"/>
<text x="284" y="342" font-size="11.6" text-anchor="middle" fill="#111" stroke="#111" stroke-width="0.25">0</text>
<line x1="301.66" y1="326.5" x2="301.66" y2="331.3" stroke="#0a0a0a" stroke-width="1.4"/>
<text x="301.66" y="342" font-size="11.6" text-anchor="middle" fill="#111" stroke="#111" stroke-width="0.25">1</text>
<line x1="319.32" y1="326.5" x2="319.32" y2="331.3" stroke="#0a0a0a" stroke-width="1.4"/>
<text x="319.32" y="342" font-size="11.6" text-anchor="middle" fill="#111" stroke="#111" stroke-width="0.25">2</text>
<line x1="336.98" y1="326.5" x2="336.98" y2="331.3" stroke="#0a0a0a" stroke-width="1.4"/>
<text x="336.98" y="342" font-size="11.6" text-anchor="middle" fill="#111" stroke="#111" stroke-width="0.25">3</text>
<line x1="354.64" y1="326.5" x2="354.64" y2="331.3" stroke="#0a0a0a" stroke-width="1.4"/>
<text x="354.64" y="342" font-size="11.6" text-anchor="middle" fill="#111" stroke="#111" stroke-width="0.25">4</text>
<line x1="372.3" y1="326.5" x2="372.3" y2="331.3" stroke="#0a0a0a" stroke-width="1.4"/>
<text x="372.3" y="342" font-size="11.6" text-anchor="middle" fill="#111" stroke="#111" stroke-width="0.25">5</text>
<line x1="389.96" y1="326.5" x2="389.96" y2="331.3" stroke="#0a0a0a" stroke-width="1.4"/>
<text x="389.96" y="342" font-size="11.6" text-anchor="middle" fill="#111" stroke="#111" stroke-width="0.25">6</text>
<line x1="407.62" y1="326.5" x2="407.62" y2="331.3" stroke="#0a0a0a" stroke-width="1.4"/>
<text x="407.62" y="342" font-size="11.6" text-anchor="middle" fill="#111" stroke="#111" stroke-width="0.25">7</text>
<line x1="425.28" y1="326.5" x2="425.28" y2="331.3" stroke="#0a0a0a" stroke-width="1.4"/>
<text x="425.28" y="342" font-size="11.6" text-anchor="middle" fill="#111" stroke="#111" stroke-width="0.25">8</text>
<line x1="442.94" y1="326.5" x2="442.94" y2="331.3" stroke="#0a0a0a" stroke-width="1.4"/>
<text x="442.94" y="342" font-size="11.6" text-anchor="middle" fill="#111" stroke="#111" stroke-width="0.25">9</text>
<line x1="460.6" y1="326.5" x2="460.6" y2="331.3" stroke="#0a0a0a" stroke-width="1.4"/>
<text x="460.6" y="342" font-size="11.6" text-anchor="middle" fill="#111" textLength="11.6" lengthAdjust="spacingAndGlyphs" stroke="#111" stroke-width="0.25">10</text>
<text x="273.7" y="360.7" font-size="11.4" text-anchor="start" fill="#1c1c1c" textLength="195.3" lengthAdjust="spacingAndGlyphs" stroke="#1c1c1c" stroke-width="0.2">days after first imiquimod application</text>
<text x="256.8" y="260.6" font-size="11.4" text-anchor="middle" fill="#3c3c3c" textLength="57.6" lengthAdjust="spacingAndGlyphs" transform="rotate(-90 256.8 260.6)" stroke="#3c3c3c" stroke-width="0.1">total score</text>
<text x="281.6" y="196.5" font-size="21" text-anchor="start" fill="#000" font-weight="bold">d</text>
<polyline points="301.66,326.5 319.32,324 336.98,302.6 354.64,291.4 372.3,284.4 389.96,267.2 407.62,268.7 425.28,242 442.94,243.9 460.6,247.3" fill="none" stroke="#0a0a0a" stroke-width="1.55" stroke-linejoin="round"/>
<polyline points="301.66,326.5 319.32,324 336.98,270 354.64,264 372.3,272.3 389.96,246.4 407.62,267.5 425.28,240.3 442.94,225.4 460.6,225.4" fill="none" stroke="#0a0a0a" stroke-width="1.55" stroke-linejoin="round"/>
<line x1="336.98" y1="295.8" x2="336.98" y2="309.8" stroke="#0a0a0a" stroke-width="1.6"/>
<line x1="333.18" y1="295.8" x2="340.78" y2="295.8" stroke="#0a0a0a" stroke-width="1.7"/>
<line x1="333.18" y1="309.8" x2="340.78" y2="309.8" stroke="#0a0a0a" stroke-width="1.7"/>
<line x1="354.64" y1="279.4" x2="354.64" y2="303.3" stroke="#0a0a0a" stroke-width="1.6"/>
<line x1="350.84" y1="279.4" x2="358.44" y2="279.4" stroke="#0a0a0a" stroke-width="1.7"/>
<line x1="350.84" y1="303.3" x2="358.44" y2="303.3" stroke="#0a0a0a" stroke-width="1.7"/>
<line x1="372.3" y1="272.3" x2="372.3" y2="293.4" stroke="#0a0a0a" stroke-width="1.6"/>
<line x1="368.5" y1="272.3" x2="376.1" y2="272.3" stroke="#0a0a0a" stroke-width="1.7"/>
<line x1="368.5" y1="293.4" x2="376.1" y2="293.4" stroke="#0a0a0a" stroke-width="1.7"/>
<line x1="389.96" y1="258" x2="389.96" y2="280" stroke="#0a0a0a" stroke-width="1.6"/>
<line x1="386.16" y1="258" x2="393.76" y2="258" stroke="#0a0a0a" stroke-width="1.7"/>
<line x1="386.16" y1="280" x2="393.76" y2="280" stroke="#0a0a0a" stroke-width="1.7"/>
<line x1="407.62" y1="262.6" x2="407.62" y2="275.2" stroke="#0a0a0a" stroke-width="1.6"/>
<line x1="403.82" y1="262.6" x2="411.42" y2="262.6" stroke="#0a0a0a" stroke-width="1.7"/>
<line x1="403.82" y1="275.2" x2="411.42" y2="275.2" stroke="#0a0a0a" stroke-width="1.7"/>
<line x1="425.28" y1="233" x2="425.28" y2="256" stroke="#0a0a0a" stroke-width="1.6"/>
<line x1="421.48" y1="233" x2="429.08" y2="233" stroke="#0a0a0a" stroke-width="1.7"/>
<line x1="421.48" y1="256" x2="429.08" y2="256" stroke="#0a0a0a" stroke-width="1.7"/>
<line x1="442.94" y1="236" x2="442.94" y2="258.6" stroke="#0a0a0a" stroke-width="1.6"/>
<line x1="439.14" y1="236" x2="446.74" y2="236" stroke="#0a0a0a" stroke-width="1.7"/>
<line x1="439.14" y1="258.6" x2="446.74" y2="258.6" stroke="#0a0a0a" stroke-width="1.7"/>
<line x1="460.6" y1="235.2" x2="460.6" y2="260.8" stroke="#0a0a0a" stroke-width="1.6"/>
<line x1="456.8" y1="235.2" x2="464.4" y2="235.2" stroke="#0a0a0a" stroke-width="1.7"/>
<line x1="456.8" y1="260.8" x2="464.4" y2="260.8" stroke="#0a0a0a" stroke-width="1.7"/>
<line x1="319.32" y1="322.5" x2="319.32" y2="325.5" stroke="#0a0a0a" stroke-width="1.6"/>
<line x1="315.52" y1="322.5" x2="323.12" y2="322.5" stroke="#0a0a0a" stroke-width="1.7"/>
<line x1="315.52" y1="325.5" x2="323.12" y2="325.5" stroke="#0a0a0a" stroke-width="1.7"/>
<line x1="336.98" y1="258" x2="336.98" y2="280.6" stroke="#0a0a0a" stroke-width="1.6"/>
<line x1="333.18" y1="258" x2="340.78" y2="258" stroke="#0a0a0a" stroke-width="1.7"/>
<line x1="333.18" y1="280.6" x2="340.78" y2="280.6" stroke="#0a0a0a" stroke-width="1.7"/>
<line x1="354.64" y1="251.4" x2="354.64" y2="278.4" stroke="#0a0a0a" stroke-width="1.6"/>
<line x1="350.84" y1="251.4" x2="358.44" y2="251.4" stroke="#0a0a0a" stroke-width="1.7"/>
<line x1="350.84" y1="278.4" x2="358.44" y2="278.4" stroke="#0a0a0a" stroke-width="1.7"/>
<line x1="372.3" y1="259.5" x2="372.3" y2="285.2" stroke="#0a0a0a" stroke-width="1.6"/>
<line x1="368.5" y1="259.5" x2="376.1" y2="259.5" stroke="#0a0a0a" stroke-width="1.7"/>
<line x1="368.5" y1="285.2" x2="376.1" y2="285.2" stroke="#0a0a0a" stroke-width="1.7"/>
<line x1="389.96" y1="236" x2="389.96" y2="258" stroke="#0a0a0a" stroke-width="1.6"/>
<line x1="386.16" y1="236" x2="393.76" y2="236" stroke="#0a0a0a" stroke-width="1.7"/>
<line x1="386.16" y1="258" x2="393.76" y2="258" stroke="#0a0a0a" stroke-width="1.7"/>
<line x1="407.62" y1="256" x2="407.62" y2="277.5" stroke="#0a0a0a" stroke-width="1.6"/>
<line x1="403.82" y1="256" x2="411.42" y2="256" stroke="#0a0a0a" stroke-width="1.7"/>
<line x1="403.82" y1="277.5" x2="411.42" y2="277.5" stroke="#0a0a0a" stroke-width="1.7"/>
<line x1="425.28" y1="229.2" x2="425.28" y2="251" stroke="#0a0a0a" stroke-width="1.6"/>
<line x1="421.48" y1="229.2" x2="429.08" y2="229.2" stroke="#0a0a0a" stroke-width="1.7"/>
<line x1="421.48" y1="251" x2="429.08" y2="251" stroke="#0a0a0a" stroke-width="1.7"/>
<line x1="442.94" y1="213.4" x2="442.94" y2="239.5" stroke="#0a0a0a" stroke-width="1.6"/>
<line x1="439.14" y1="213.4" x2="446.74" y2="213.4" stroke="#0a0a0a" stroke-width="1.7"/>
<line x1="439.14" y1="239.5" x2="446.74" y2="239.5" stroke="#0a0a0a" stroke-width="1.7"/>
<line x1="460.6" y1="213.4" x2="460.6" y2="239" stroke="#0a0a0a" stroke-width="1.6"/>
<line x1="456.8" y1="213.4" x2="464.4" y2="213.4" stroke="#0a0a0a" stroke-width="1.7"/>
<line x1="456.8" y1="239" x2="464.4" y2="239" stroke="#0a0a0a" stroke-width="1.7"/>
<rect x="281.45" y="323.95" width="5.1" height="5.1" fill="#0a0a0a"/>
<rect x="299.11" y="323.95" width="5.1" height="5.1" fill="#0a0a0a"/>
<rect x="316.77" y="321.45" width="5.1" height="5.1" fill="#0a0a0a"/>
<rect x="334.43" y="300.05" width="5.1" height="5.1" fill="#0a0a0a"/>
<rect x="352.09" y="288.85" width="5.1" height="5.1" fill="#0a0a0a"/>
<rect x="369.75" y="281.85" width="5.1" height="5.1" fill="#0a0a0a"/>
<rect x="387.41" y="264.65" width="5.1" height="5.1" fill="#0a0a0a"/>
<rect x="405.07" y="266.15" width="5.1" height="5.1" fill="#0a0a0a"/>
<rect x="422.73" y="239.45" width="5.1" height="5.1" fill="#0a0a0a"/>
<rect x="440.39" y="241.35" width="5.1" height="5.1" fill="#0a0a0a"/>
<rect x="458.05" y="244.75" width="5.1" height="5.1" fill="#0a0a0a"/>
<circle cx="284" cy="326.5" r="2.9" fill="#0a0a0a"/>
<circle cx="301.66" cy="326.5" r="2.9" fill="#0a0a0a"/>
<circle cx="319.32" cy="324" r="2.9" fill="#0a0a0a"/>
<circle cx="336.98" cy="270" r="2.9" fill="#0a0a0a"/>
<circle cx="354.64" cy="264" r="2.9" fill="#0a0a0a"/>
<circle cx="372.3" cy="272.3" r="2.9" fill="#0a0a0a"/>
<circle cx="389.96" cy="246.4" r="2.9" fill="#0a0a0a"/>
<circle cx="407.62" cy="267.5" r="2.9" fill="#0a0a0a"/>
<circle cx="425.28" cy="240.3" r="2.9" fill="#0a0a0a"/>
<circle cx="442.94" cy="225.4" r="2.9" fill="#0a0a0a"/>
<circle cx="460.6" cy="225.4" r="2.9" fill="#0a0a0a"/>
<line x1="43" y1="401.6" x2="43" y2="556.55" stroke="#0a0a0a" stroke-width="1.5"/>
<line x1="42.25" y1="555.8" x2="217.6" y2="555.8" stroke="#0a0a0a" stroke-width="1.5"/>
<line x1="39.4" y1="555.8" x2="43" y2="555.8" stroke="#0a0a0a" stroke-width="1.4"/>
<text x="38.6" y="559.7" font-size="11.8" text-anchor="end" fill="#111" font-weight="bold" textLength="9.3" lengthAdjust="spacingAndGlyphs" stroke="#111" stroke-width="0.25">30</text>
<line x1="39.4" y1="525.1" x2="43" y2="525.1" stroke="#0a0a0a" stroke-width="1.4"/>
<text x="38.6" y="529" font-size="11.8" text-anchor="end" fill="#111" font-weight="bold" textLength="9.3" lengthAdjust="spacingAndGlyphs" stroke="#111" stroke-width="0.25">35</text>
<line x1="39.4" y1="494.4" x2="43" y2="494.4" stroke="#0a0a0a" stroke-width="1.4"/>
<text x="38.6" y="498.3" font-size="11.8" text-anchor="end" fill="#111" font-weight="bold" textLength="9.3" lengthAdjust="spacingAndGlyphs" stroke="#111" stroke-width="0.25">40</text>
<line x1="39.4" y1="463.7" x2="43" y2="463.7" stroke="#0a0a0a" stroke-width="1.4"/>
<text x="38.6" y="467.6" font-size="11.8" text-anchor="end" fill="#111" font-weight="bold" textLength="9.3" lengthAdjust="spacingAndGlyphs" stroke="#111" stroke-width="0.25">45</text>
<line x1="39.4" y1="433" x2="43" y2="433" stroke="#0a0a0a" stroke-width="1.4"/>
<text x="38.6" y="436.9" font-size="11.8" text-anchor="end" fill="#111" font-weight="bold" textLength="9.3" lengthAdjust="spacingAndGlyphs" stroke="#111" stroke-width="0.25">50</text>
<line x1="39.4" y1="402.3" x2="43" y2="402.3" stroke="#0a0a0a" stroke-width="1.4"/>
<text x="38.6" y="406.2" font-size="11.8" text-anchor="end" fill="#111" font-weight="bold" textLength="9.3" lengthAdjust="spacingAndGlyphs" stroke="#111" stroke-width="0.25">55</text>
<line x1="86.6" y1="555.8" x2="86.6" y2="559.4" stroke="#0a0a0a" stroke-width="1.4"/>
<line x1="173.1" y1="555.8" x2="173.1" y2="559.4" stroke="#0a0a0a" stroke-width="1.4"/>
<text x="86.6" y="571.4" font-size="12.4" text-anchor="middle" fill="#111" font-weight="bold" textLength="9.8" lengthAdjust="spacingAndGlyphs" stroke="#111" stroke-width="0.2">wt</text>
<text x="173.1" y="571.4" font-size="12.4" text-anchor="middle" fill="#111" font-weight="bold" textLength="30" lengthAdjust="spacingAndGlyphs" stroke="#111" stroke-width="0.2">IL-33 -/-</text>
<text x="15.3" y="467.5" font-size="9.4" text-anchor="middle" fill="#111" font-weight="bold" textLength="143" lengthAdjust="spacingAndGlyphs" transform="rotate(-90 15.3 467.5)" stroke="#111" stroke-width="0.2" style="white-space:pre">Epidermal tickness  (µm)</text>
<text x="51.4" y="404.6" font-size="22" text-anchor="start" fill="#000" font-weight="bold">e</text>
<line x1="58" y1="468.3" x2="115.8" y2="468.3" stroke="#0a0a0a" stroke-width="1.6"/>
<line x1="72" y1="460.2" x2="101.8" y2="460.2" stroke="#0a0a0a" stroke-width="2.1"/>
<line x1="72" y1="477.2" x2="101.8" y2="477.2" stroke="#0a0a0a" stroke-width="2.1"/>
<line x1="86.9" y1="460.2" x2="86.9" y2="477.2" stroke="#0a0a0a" stroke-width="1.5"/>
<ellipse cx="86.6" cy="435" rx="2.3" ry="3.05" fill="#0a0a0a"/>
<ellipse cx="89.8" cy="457" rx="2.3" ry="3.05" fill="#0a0a0a"/>
<ellipse cx="83.4" cy="464.2" rx="2.3" ry="3.05" fill="#0a0a0a"/>
<ellipse cx="86.5" cy="473.4" rx="2.3" ry="3.05" fill="#0a0a0a"/>
<ellipse cx="89.9" cy="487.8" rx="2.3" ry="3.05" fill="#0a0a0a"/>
<ellipse cx="83.2" cy="492.8" rx="2.3" ry="3.05" fill="#0a0a0a"/>
<line x1="144.2" y1="488" x2="202.7" y2="488" stroke="#0a0a0a" stroke-width="1.6"/>
<line x1="158.6" y1="480.9" x2="188.3" y2="480.9" stroke="#0a0a0a" stroke-width="2.1"/>
<line x1="158.6" y1="496.3" x2="188.3" y2="496.3" stroke="#0a0a0a" stroke-width="2.1"/>
<line x1="173.4" y1="480.9" x2="173.4" y2="496.3" stroke="#0a0a0a" stroke-width="1.5"/>
<rect x="160.4" y="474.45" width="4.4" height="6.1" fill="#0a0a0a"/>
<rect x="167.6" y="478.15" width="4.4" height="6.1" fill="#0a0a0a"/>
<rect x="174.2" y="476.55" width="4.4" height="6.1" fill="#0a0a0a"/>
<rect x="181.6" y="470.05" width="4.4" height="6.1" fill="#0a0a0a"/>
<rect x="171.1" y="493.75" width="4.4" height="6.1" fill="#0a0a0a"/>
<rect x="171.1" y="520.15" width="4.4" height="6.1" fill="#0a0a0a"/>
</g>
</svg>
</body></html>
